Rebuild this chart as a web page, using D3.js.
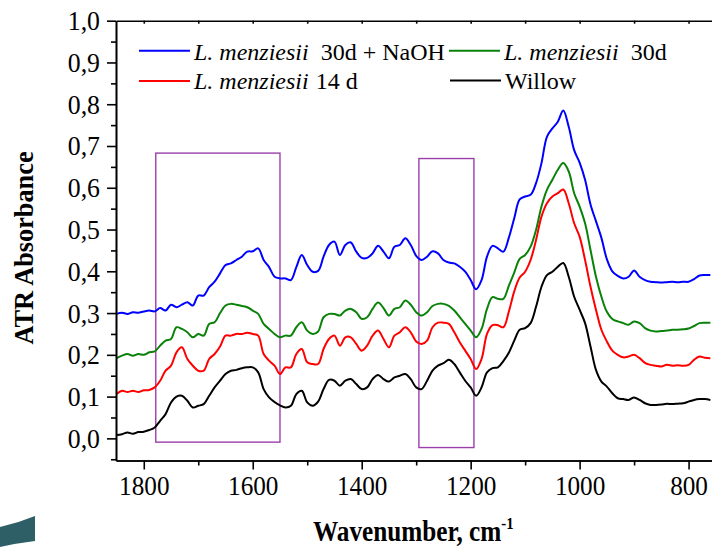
<!DOCTYPE html>
<html lang="en">
<head>
<meta charset="utf-8">
<title>ATR spectra</title>
<script src="https://cdn.jsdelivr.net/npm/d3@7"></script>
<style>
  body { margin: 0; background: #fff; }
  text { font-family: "Liberation Serif", "Times New Roman", serif; fill: #000; }
</style>
</head>
<body>
<script>
// wavenumber grid (cm-1), read every 10 cm-1 off the picture
var wavenumber = [1850,1840,1830,1820,1810,1800,1790,1780,1770,1760,1750,1740,1730,1720,1710,1700,1690,1680,1670,1660,
  1650,1640,1630,1620,1610,1600,1590,1580,1570,1560,1550,1540,1530,1520,1510,1500,1490,1480,1470,1460,
  1450,1440,1430,1420,1410,1400,1390,1380,1370,1360,1350,1340,1330,1320,1310,1300,1290,1280,1270,1260,
  1250,1240,1230,1220,1210,1200,1190,1180,1170,1160,1150,1140,1130,1120,1110,1100,1090,1080,1070,1060,
  1050,1040,1030,1020,1010,1000,990,980,970,960,950,940,930,920,910,900,890,880,870,860,
  850,840,830,820,810,800,790,780,770,760];

var naoh30d = [.298,.301,.298,.302,.301,.304,.306,.304,.312,.306,.320,.314,.320,.326,.318,.342,.342,.362,.375,.395,
  .415,.419,.427,.435,.447,.448,.455,.427,.410,.387,.383,.383,.379,.410,.439,.415,.399,.401,.435,.463,
  .471,.439,.463,.469,.447,.432,.432,.443,.461,.447,.431,.459,.463,.479,.463,.437,.427,.435,.448,.443,
  .427,.421,.419,.411,.399,.379,.357,.379,.435,.461,.455,.447,.480,.527,.572,.579,.583,.611,.659,.722,
  .742,.758,.785,.746,.690,.660,.619,.560,.520,.480,.429,.400,.389,.383,.387,.402,.387,.379,.375,.374,
  .373,.374,.375,.374,.375,.375,.381,.390,.391,.391];

var menz30d = [.192,.198,.202,.198,.202,.200,.206,.208,.222,.234,.238,.266,.262,.254,.242,.250,.246,.274,.278,.300,
  .318,.322,.320,.317,.314,.306,.298,.274,.262,.250,.242,.246,.246,.266,.278,.258,.250,.256,.290,.298,
  .298,.294,.306,.310,.302,.286,.290,.310,.325,.312,.294,.310,.314,.330,.320,.302,.294,.302,.317,.322,
  .322,.317,.306,.290,.274,.258,.242,.262,.310,.338,.334,.334,.365,.397,.430,.439,.459,.499,.555,.595,
  .619,.643,.659,.639,.587,.555,.515,.451,.387,.339,.303,.286,.280,.276,.272,.280,.276,.264,.258,.256,
  .257,.258,.260,.260,.261,.263,.269,.276,.277,.277];

var menz14d = [.106,.114,.111,.114,.111,.115,.116,.122,.138,.162,.174,.206,.218,.190,.174,.162,.162,.190,.202,.220,
  .246,.246,.250,.250,.253,.250,.246,.202,.186,.174,.154,.170,.170,.202,.214,.182,.178,.178,.214,.238,
  .246,.222,.242,.242,.226,.210,.222,.246,.258,.238,.218,.246,.254,.266,.254,.232,.226,.234,.266,.277,
  .277,.274,.254,.230,.210,.190,.166,.190,.250,.271,.271,.266,.303,.352,.385,.399,.427,.475,.531,.563,
  .579,.587,.596,.563,.515,.483,.427,.363,.308,.260,.232,.210,.200,.194,.196,.200,.192,.181,.176,.174,
  .172,.176,.174,.175,.174,.176,.188,.196,.193,.192];

var willow = [.008,.010,.014,.011,.015,.016,.020,.026,.042,.058,.086,.100,.102,.090,.074,.078,.082,.102,.122,.138,
  .154,.162,.164,.168,.170,.170,.158,.118,.098,.087,.079,.074,.078,.106,.114,.086,.078,.088,.118,.140,
  .138,.126,.138,.142,.130,.118,.122,.142,.152,.142,.136,.146,.150,.154,.142,.122,.118,.138,.162,.174,
  .180,.188,.178,.158,.138,.122,.102,.122,.158,.168,.170,.185,.205,.234,.260,.264,.276,.315,.363,.391,
  .399,.411,.420,.387,.339,.308,.276,.220,.164,.136,.124,.108,.096,.094,.092,.098,.092,.084,.080,.080,
  .081,.083,.082,.083,.084,.088,.092,.094,.094,.092];

var seriesColors = ["#0000ff", "#0a820a", "#ff0000", "#000000"];

var xMajorTicks = [1800, 1600, 1400, 1200, 1000, 800];
var xMinorTicks = [1700, 1500, 1300, 1100, 900];
var yMajorTicks = [0, 0.1, 0.2, 0.3, 0.4, 0.5, 0.6, 0.7, 0.8, 0.9, 1.0];
var yMinorTicks = [-0.05, 0.05, 0.15, 0.25, 0.35, 0.45, 0.55, 0.65, 0.75, 0.85, 0.95];

// highlighted regions [wn from, wn to, abs bottom, abs top]
var boxes = [[1778, 1550, -0.009, 0.683], [1295, 1194, -0.022, 0.670]];

var w = 712, h = 551;
var plotL = 116, plotT = 20.7, plotB = 460.5, plotR = 712;

var svg = d3.select("body").append("svg")
  .attr("width", w)
  .attr("height", h);

var x = d3.scaleLinear().domain([1851, 757]).range([plotL, plotR]);
var y = d3.scaleLinear().domain([-0.053, 1.0]).range([plotB, plotT]);

svg.append("clipPath").attr("id", "plot")
  .append("rect").attr("x", plotL).attr("y", plotT).attr("width", plotR - plotL).attr("height", plotB - plotT);

// boxes
svg.selectAll("rect.box")
  .data(boxes)
  .enter().append("rect")
  .attr("class", "box")
  .attr("x", function(d) { return x(d[0]); })
  .attr("y", function(d) { return y(d[3]); })
  .attr("width", function(d) { return x(d[1]) - x(d[0]); })
  .attr("height", function(d) { return y(d[2]) - y(d[3]); })
  .attr("fill", "none")
  .attr("stroke", "#9b3fab")
  .attr("stroke-width", 1.4);

// spectra
var allSeries = [naoh30d, menz30d, menz14d, willow];
var line = d3.line()
  .x(function(d) { return x(d[0]); })
  .y(function(d) { return y(d[1]); })
  .curve(d3.curveCatmullRom.alpha(0.5));

svg.append("g").attr("clip-path", "url(#plot)")
  .selectAll("path")
  .data(allSeries)
  .enter().append("path")
  .attr("d", function(s) { return line(wavenumber.map(function(wn, i) { return [wn, s[i]]; })); })
  .attr("fill", "none")
  .attr("stroke", function(d, i) { return seriesColors[i]; })
  .attr("stroke-width", 2)
  .attr("stroke-linejoin", "round");

// axes
var fmt = function(v) { return d3.format(".1f")(v).replace(".", ","); };

var xAxis = svg.append("g").attr("transform", "translate(0," + plotB + ")")
  .call(d3.axisBottom(x).tickValues(xMajorTicks).tickSize(9).tickSizeOuter(0).tickPadding(6).tickFormat(d3.format("d")));
svg.append("g").attr("transform", "translate(0," + plotB + ")")
  .call(d3.axisBottom(x).tickValues(xMinorTicks).tickSize(5).tickSizeOuter(0).tickFormat(""));

var yAxis = svg.append("g").attr("transform", "translate(" + plotL + ",0)")
  .call(d3.axisLeft(y).tickValues(yMajorTicks).tickSize(9).tickSizeOuter(0).tickPadding(7).tickFormat(fmt));
svg.append("g").attr("transform", "translate(" + plotL + ",0)")
  .call(d3.axisLeft(y).tickValues(yMinorTicks).tickSize(5).tickSizeOuter(0).tickFormat(""));

// top frame line with short inward ticks
svg.append("g").attr("transform", "translate(0," + plotT + ")")
  .call(d3.axisTop(x).tickValues(xMajorTicks.concat(xMinorTicks)).tickSize(-3).tickSizeOuter(0).tickFormat(""));

svg.selectAll(".domain, .tick line").attr("stroke", "#000").attr("stroke-width", 1.6);
svg.selectAll(".tick text").attr("font-size", 28).attr("fill", "#000");
xAxis.selectAll(".tick text").attr("transform", "scale(0.9,1)");
yAxis.selectAll(".tick text").attr("x", -16 / 0.92).attr("transform", "scale(0.92,1)");

// axis titles
svg.append("text")
  .attr("transform", "translate(33,248) rotate(-90) scale(0.94,1)")
  .attr("text-anchor", "middle")
  .attr("font-size", 28)
  .attr("font-weight", "bold")
  .text("ATR Absorbance");

var xt = svg.append("text")
  .attr("transform", "translate(313,541) scale(0.87,1)")
  .attr("font-size", 29)
  .attr("font-weight", "bold");
xt.append("tspan").text("Wavenumber, cm");
xt.append("tspan").attr("dy", -12).attr("font-size", 17).text("-1");

// legend
var legendItems = [
  { i: 0, lx: 139, ly: 50.7, tx: 194, ty: 60, rest: "30d + NaOH", gap: 12 },
  { i: 1, lx: 449, ly: 50.7, tx: 504, ty: 60, rest: "30d", gap: 12 },
  { i: 2, lx: 139, ly: 81, tx: 194, ty: 88.5, rest: "14 d", gap: 7 },
  { i: 3, lx: 450, ly: 80.5, tx: 505, ty: 88.5, rest: null, gap: 0 }
];
var leg = svg.append("g");
legendItems.forEach(function(d) {
  leg.append("line")
    .attr("x1", d.lx).attr("x2", d.lx + 51)
    .attr("y1", d.ly).attr("y2", d.ly)
    .attr("stroke", seriesColors[d.i]).attr("stroke-width", 2);
  var t = leg.append("text").attr("x", d.tx).attr("y", d.ty).attr("font-size", 24);
  if (d.rest === null) {
    t.text("Willow");
  } else {
    t.append("tspan").attr("font-style", "italic").text("L. menziesii");
    t.append("tspan").attr("dx", d.gap).text(d.rest);
  }
});

// teal fragment at bottom left
svg.append("path")
  .attr("d", "M0,527 Q18,523 35,516 L35,541 Q18,543 0,547 Z")
  .attr("fill", "#2e5f66");
</script>
</body>
</html>
